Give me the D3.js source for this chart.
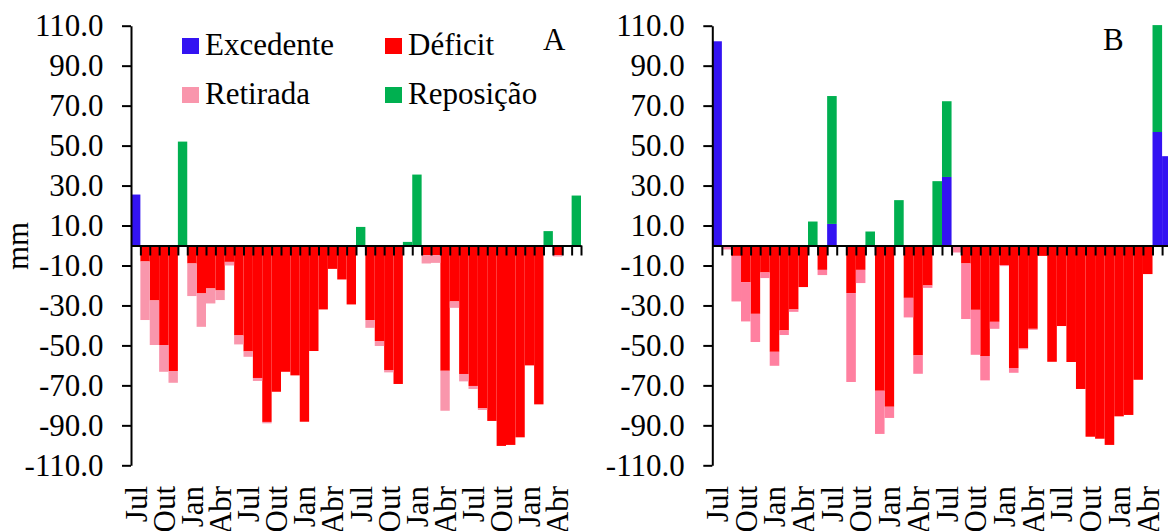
<!DOCTYPE html>
<html>
<head>
<meta charset="utf-8">
<script src="https://cdn.jsdelivr.net/npm/d3@7"></script>
<style>
  body { margin: 0; background: #fff; }
  svg { display: block; font-family: "Liberation Serif", "Times New Roman", serif; }
</style>
</head>
<body>
<svg id="chart" width="1168" height="531"></svg>
<script>
// Monthly water balance (mm), July to June over four years
const months = ["Jul", "Ago", "Set", "Out", "Nov", "Dez", "Jan", "Fev", "Mar", "Abr", "Mai", "Jun"];
const categories = d3.range(48).map(i => months[i % 12]);
const labelEvery = 3;
const yTicks = [110, 90, 70, 50, 30, 10, -10, -30, -50, -70, -90, -110];
const seriesNames = ["Excedente", "Déficit", "Retirada", "Reposição"];

// Panel A
const excedenteA = [25.5,0,0,0,0,0, 0,0,0,0,0,0, 0,0,0,0,0,0, 0,0,0,0,0,0,
                    0,0,0,0,0,0, 0,0,0,0,0,0, 0,0,0,0,0,0, 0,0,0,0,0,0];
const reposicaoA = [0,0,0,0,0,52, 0,0,0,0,0,0, 0,0,0,0,0,0, 0,0,0,0,0,0,
                    9.3,0,0,0,0,1.8, 35.5,0,0,0,0,0, 0,0,0,0,0,0, 0,0,7.2,0,0,25];
const deficitA   = [0,-8,-27.5,-49.8,-62.8,0, -9,-24,-21.5,-22.5,-8.2,-45,
                    -53,-66.3,-88.3,-73.2,-63.2,-65, -88.2,-52.8,-32,-11.7,-17,-29.5,
                    0,-37.3,-47.8,-62.3,-69.3,0, 0,-4.8,-4.8,-62.7,-28,-64.3,
                    -70.3,-81.5,-87.8,-100.3,-99.8,-96, -60,-79.5,0,-4.8,0,0];
const retiradaA  = [0,-29.3,-22.3,-13.4,-5.9,0, -16.3,-16.7,-7.5,-4.8,-1.8,-4.5,
                    -2.7,-1.5,-0.7,0,0,0, 0,0,0,0,0,0,
                    0,-3.9,-2.5,-1.2,0,0, 0,-4.2,-3.9,-20,-3.2,-3.7,
                    -1.5,-0.8,0,0,0,0, 0,0,0,-0.7,0,0];

// Panel B
const excedenteB = [102.2,0,0,0,0,0, 0,0,0,0,0,0, 10.8,0,0,0,0,0, 0,0,0,0,0,0,
                    34.3,0,0,0,0,0, 0,0,0,0,0,0, 0,0,0,0,0,0, 0,0,0,0,56.8,44.7];
const reposicaoB = [0,0,0,0,0,0, 0,0,0,0,12,0, 64,0,0,0,7,0, 0,22.7,0,0,0,32.2,
                    37.9,0,0,0,0,0, 0,0,0,0,0,0, 0,0,0,0,0,0, 0,0,0,0,53.5,0];
const deficitB   = [0,0,-5.2,-18.3,-34.2,-13.5, -53.2,-42.5,-32,-20.8,0,-12.2,
                    0,0,-23.8,-12.2,0,-72.7, -80.7,0,-26.2,-55,-20,0,
                    0,0,-9,-32.2,-55.3,-38.2, -9.8,-61.3,-51.5,-41.7,-5.2,-58.2,
                    -40.3,-58.3,-71.8,-95.7,-96.7,-99.8, -85.5,-84.8,-67.2,-14.3,0,0];
const retiradaB  = [0,-2,-22.8,-19.7,-14.1,-2.8, -7,-2.3,-1.2,0,0,-2.6,
                    0,0,-44.5,-6.6,0,-21.6, -5.6,0,-9.8,-9.2,-1.2,0,
                    0,-3.5,-27.8,-22.5,-12.2,-3.5, -0.5,-2.4,-0.5,-0.5,0,0,
                    0,0,0,0,0,0, 0,0,0,0,0,0];

const svg = d3.select("#chart");
const FONT = 31;

const y = d3.scaleLinear().domain([-110, 110]).range([465.3, 25.7]);

const keys = ["excedente", "reposicao", "deficit", "retirada"];

function rows(exc, rep, def, ret) {
  return categories.map((c, i) => ({
    i, excedente: exc[i], reposicao: rep[i], deficit: def[i], retirada: ret[i]
  }));
}

function drawPanel(opts) {
  const g = svg.append("g");
  const x = d3.scaleBand().domain(d3.range(categories.length)).range([opts.x0, opts.x1]).padding(0);
  const xIdx = d3.scaleLinear().domain([0, categories.length]).range([opts.x0, opts.x1]);

  const stacked = d3.stack().keys(keys).offset(d3.stackOffsetDiverging)(opts.data);

  g.append("g").selectAll("g")
    .data(stacked)
    .join("g")
    .attr("fill", s => opts.colors[s.key])
    .selectAll("rect")
    .data(s => s.filter(d => d[1] !== d[0]))
    .join("rect")
    .attr("x", d => x(d.data.i))
    .attr("width", x.bandwidth())
    .attr("y", d => y(Math.max(d[0], d[1])))
    .attr("height", d => Math.abs(y(d[0]) - y(d[1])));

  // category axis along zero, ticks between months
  const xAxis = g.append("g")
    .attr("transform", `translate(0,${y(0)})`)
    .call(d3.axisBottom(xIdx)
      .tickValues(d3.range(1, categories.length + 1))
      .tickSize(10).tickSizeOuter(0).tickFormat(""));
  xAxis.select(".domain").attr("stroke", "#000").attr("stroke-width", 2);
  xAxis.selectAll(".tick line").attr("stroke", "#000").attr("stroke-width", 2);

  // month labels below the plot
  const lab = g.append("g")
    .attr("transform", "translate(0,486)")
    .call(d3.axisBottom(x)
      .tickValues(d3.range(0, categories.length, labelEvery))
      .tickSize(0)
      .tickFormat(i => categories[i]));
  lab.select(".domain").remove();
  lab.selectAll("text")
    .attr("transform", "rotate(-90)")
    .attr("x", 0).attr("y", 0).attr("dy", "0.35em")
    .attr("text-anchor", "end")
    .attr("font-size", FONT)
    .attr("font-family", "Liberation Serif, serif")
    .attr("fill", "#000");

  // value axis
  const yAxis = g.append("g")
    .attr("transform", `translate(${opts.x0},0)`)
    .call(d3.axisLeft(y)
      .tickValues(yTicks)
      .tickSize(9).tickSizeOuter(0).tickPadding(18.5)
      .tickFormat(d => d.toFixed(1)));
  yAxis.select(".domain").attr("stroke", "#000").attr("stroke-width", 2);
  yAxis.selectAll(".tick line").attr("stroke", "#000").attr("stroke-width", 2);
  yAxis.selectAll("text")
    .attr("font-size", FONT)
    .attr("font-family", "Liberation Serif, serif")
    .attr("fill", "#000");

  g.append("text")
    .attr("x", opts.tagX).attr("y", 50)
    .attr("font-size", FONT)
    .text(opts.tag);
}

const colorsA = { excedente: "#3313F2", reposicao: "#00B050", deficit: "#FF0000", retirada: "#F996AC" };
const colorsB = { excedente: "#3313F2", reposicao: "#00B050", deficit: "#FF0000", retirada: "#FF80A0" };

drawPanel({
  x0: 131, x1: 581, tag: "A", tagX: 543,
  data: rows(excedenteA, reposicaoA, deficitA, retiradaA), colors: colorsA
});
drawPanel({
  x0: 712.3, x1: 712.3 + 48 * 9.57, tag: "B", tagX: 1103,
  data: rows(excedenteB, reposicaoB, deficitB, retiradaB), colors: colorsB
});

// y axis title
svg.append("text")
  .attr("transform", "translate(28,246) rotate(-90)")
  .attr("text-anchor", "middle")
  .attr("font-size", FONT)
  .text("mm");

// legend
const legendColors = { "Excedente": colorsA.excedente, "Déficit": colorsA.deficit,
                       "Retirada": colorsA.retirada, "Reposição": colorsA.reposicao };
const legendPos = [[182, 38], [385, 38], [182, 87], [385, 87]];
const legend = svg.append("g").selectAll("g")
  .data(seriesNames)
  .join("g")
  .attr("transform", (d, i) => `translate(${legendPos[i][0]},${legendPos[i][1]})`);
legend.append("rect").attr("width", 17).attr("height", 16).attr("fill", d => legendColors[d]);
legend.append("text").attr("x", 23).attr("y", 17).attr("font-size", FONT).text(d => d);
</script>
</body>
</html>
